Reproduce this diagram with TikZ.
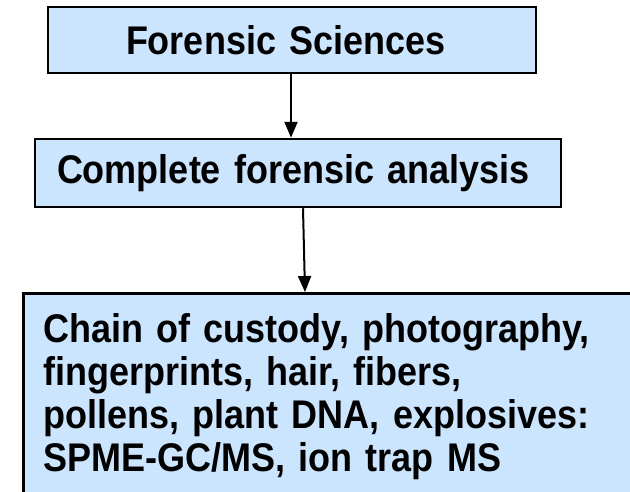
\documentclass[tikz,border=0pt]{standalone}
\usepackage{fontspec}
\setmainfont{Liberation Sans}
\newfontfamily\boxfont[FakeStretch=0.9]{Liberation Sans}
\usetikzlibrary{arrows.meta}
\definecolor{boxblue}{RGB}{204,229,255}
\begin{document}
\begin{tikzpicture}[x=1pt,y=-1pt,
	box/.style={draw=black,line width=2.5pt,fill=boxblue,align=left,font=\boxfont\bfseries\fontsize{40}{43}\selectfont},
	arr/.style={line width=2pt,-{Triangle[width=13pt,length=16pt]}}]
	\useasboundingbox (0,0) rectangle (630,491);
	\clip (0,0) rectangle (630,491);
	\node[box,text width=332,inner xsep=78,minimum height=66] (fs) at (292,40) {Forensic Sciences};
	\node[box,text width=482,inner xsep=22,minimum height=68] (cfa) at (298,173) {Complete forensic analysis};
	\node[box,anchor=north west,text width=598,inner xsep=20,inner ysep=20] (cus) at (22,292) {Chain of custody, photography,\\fingerprints, hair, fibers,\\pollens, plant DNA, explosives:\\SPME-GC/MS, ion trap MS};
	\coordinate (a1) at (291,0);
	\coordinate (a2) at (303,0);
	\coordinate (a3) at (305,0);
	\draw[arr] (fs.south -| a1) -- (cfa.north -| a1);
	\draw[arr] (cfa.south -| a2) -- (cus.north -| a3);
\end{tikzpicture}
\end{document}
